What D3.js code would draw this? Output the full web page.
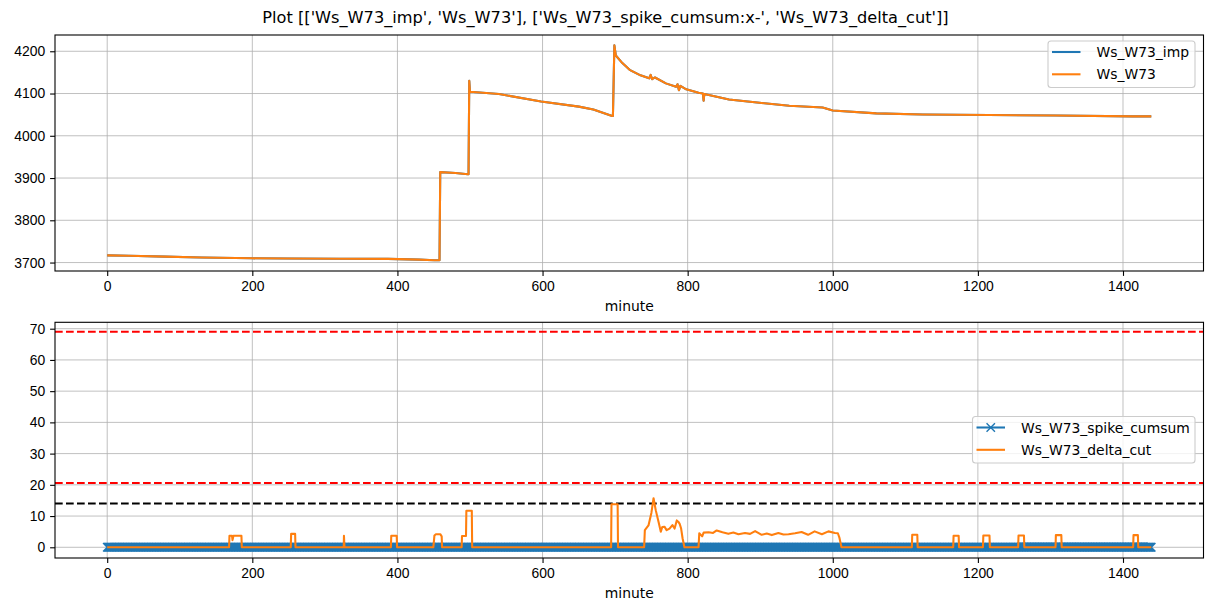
<!DOCTYPE html>
<html>
<head>
<meta charset="utf-8">
<script src="https://cdn.jsdelivr.net/npm/d3@7"></script>
<style>
  body { margin: 0; background: #fff; }
  svg { font-family: "DejaVu Sans", sans-serif; }
  .grid line { stroke: #b0b0b0; stroke-width: 0.8px; }
  .tick text { font-size: 13.9px; fill: #000; }
</style>
</head>
<body>
<svg id="chart" width="1211" height="611"></svg>
<script>
// top panel: minute, value
var topMinutes = [0, 30, 80, 130, 200, 249, 320, 387, 430, 451, 458, 459, 480, 497, 498, 499, 500, 540, 598, 650, 670, 696, 697,
  699, 701, 710, 720, 735, 747, 749, 751, 755, 770, 784, 786, 788, 790, 798, 815, 821, 822, 823, 857, 899, 940, 986, 1000,
  1060, 1124, 1215, 1307, 1413, 1439];
var wsW73 = [3717, 3716, 3714, 3712, 3710, 3709.5, 3709, 3708.7, 3707, 3705.5, 3705.5, 3914, 3912, 3909, 3909, 4130, 4104, 4099,
  4081, 4069, 4062, 4047, 4047, 4214, 4190, 4172, 4156, 4143, 4136, 4144, 4134, 4138, 4124, 4116, 4122, 4108, 4118, 4110,
  4102, 4100, 4083, 4099, 4086, 4078, 4071, 4067, 4060, 4053, 4050.5, 4049, 4048, 4046, 4046];
var wsW73Imp = wsW73.slice();

// bottom panel
var cutMinutes = [0, 168, 168.5, 172, 172.7, 174, 185, 185.5, 253, 253.5, 259, 259.5, 326, 326.3, 327, 391, 391.5, 399, 399.5,
  449.5, 451, 453, 459, 461, 461.5, 488.5, 489, 494.5, 495, 502.5, 503, 694.5, 695, 703.5, 704, 740, 741, 746, 750, 753, 756,
  760, 763, 765, 768, 771, 775, 779, 782, 785, 787, 789, 791, 793, 795.5, 815, 816, 820, 822, 829, 835, 840, 848, 856, 863,
  870, 879, 886, 893, 902, 909, 916, 925, 932, 939, 948, 957, 966, 975, 985, 994, 1003, 1007, 1009, 1012, 1109, 1109.5,
  1116.5, 1117, 1166, 1166.5, 1173.5, 1174, 1207, 1207.5, 1216, 1216.5, 1255.5, 1256, 1263.5, 1264, 1307, 1307.5, 1315,
  1315.5, 1414, 1414.5, 1420.5, 1421, 1439];
var deltaCut = [0, 0, 3.7, 3.7, 2.3, 3.7, 3.7, 0, 0, 4.3, 4.3, 0, 0, 3.7, 0, 0, 3.7, 3.7, 0,
  0, 3.8, 4.2, 4.2, 3.5, 0, 0, 3.6, 3.6, 11.7, 11.7, 0, 0, 13.8, 13.8, 0, 0, 5.5, 7, 11, 15.7, 11.9,
  8, 5, 6.5, 6.6, 5.5, 6, 7.1, 6, 8.6, 8.2, 7.5, 6, 2.9, 0, 0, 4.5, 3.5, 4.7, 4.8, 4.6, 5.4, 4.8, 4.3, 4.7,
  4.2, 4.6, 4.3, 5.2, 4, 4.4, 3.9, 4.6, 4.1, 4.2, 4.5, 4.9, 4, 5.1, 4.2, 5.1, 4.6, 4.5, 3.2, 0, 0, 4,
  4, 0, 0, 3.7, 3.7, 0, 0, 3.8, 3.8, 0, 0, 3.8, 3.8, 0, 0, 3.9, 3.9,
  0, 0, 3.9, 3.9, 0, 0];
var cumsumMinutes = d3.range(0, 1440);
var spikeCumsum = cumsumMinutes.map(function() { return 0; });

var redLevels = [69, 20.6];
var blackLevels = [14];
var xTicks = [0, 200, 400, 600, 800, 1000, 1200, 1400];
var topYTicks = [3700, 3800, 3900, 4000, 4100, 4200];
var botYTicks = [0, 10, 20, 30, 40, 50, 60, 70];

var BLUE = '#1f77b4', ORANGE = '#ff7f0e';
var svg = d3.select('#chart');

svg.append('text')
  .attr('x', 605.5).attr('y', 17)
  .attr('text-anchor', 'middle').attr('dominant-baseline', 'central')
  .style('font-size', '16.2px')
  .text("Plot [['Ws_W73_imp', 'Ws_W73'], ['Ws_W73_spike_cumsum:x-', 'Ws_W73_delta_cut']]");

var left = 55, right = 1203.5;
var x = d3.scaleLinear().domain([-71.95, 1510.95]).range([left, right]);

function panel(id, top, bottom, yDomain, yTicks) {
  var g = svg.append('g');
  var y = d3.scaleLinear().domain(yDomain).range([bottom, top]);
  g.append('clipPath').attr('id', id).append('rect')
    .attr('x', left).attr('y', top).attr('width', right - left).attr('height', bottom - top);

  g.append('g').attr('class', 'grid')
    .selectAll('line').data(xTicks).enter().append('line')
    .attr('x1', function(d) { return x(d); }).attr('x2', function(d) { return x(d); })
    .attr('y1', top).attr('y2', bottom);
  g.append('g').attr('class', 'grid')
    .selectAll('line').data(yTicks).enter().append('line')
    .attr('y1', function(d) { return y(d); }).attr('y2', function(d) { return y(d); })
    .attr('x1', left).attr('x2', right);

  var xa = g.append('g').attr('transform', 'translate(0,' + bottom + ')')
    .call(d3.axisBottom(x).tickValues(xTicks).tickSize(4.9).tickPadding(4.9).tickFormat(d3.format('d')));
  var ya = g.append('g').attr('transform', 'translate(' + left + ',0)')
    .call(d3.axisLeft(y).tickValues(yTicks).tickSize(4.9).tickPadding(4.9).tickFormat(d3.format('d')));
  [xa, ya].forEach(function(a) {
    a.select('.domain').remove();
    a.selectAll('.tick line').style('stroke', '#000').style('stroke-width', 1.1);
  });

  g.append('text')
    .attr('x', (left + right) / 2).attr('y', bottom + 35)
    .attr('text-anchor', 'middle').attr('dominant-baseline', 'central')
    .style('font-size', '13.9px')
    .text('minute');

  var plot = g.append('g').attr('clip-path', 'url(#' + id + ')');
  var frame = function() {
    g.append('rect')
      .attr('x', left).attr('y', top).attr('width', right - left).attr('height', bottom - top)
      .style('fill', 'none').style('stroke', '#000').style('stroke-width', 1.1);
  };
  return { g: g, y: y, plot: plot, frame: frame };
}

function legend(g, x0, y0, w, h, items) {
  var lg = g.append('g');
  lg.append('rect').attr('x', x0).attr('y', y0).attr('width', w).attr('height', h)
    .attr('rx', 3).style('fill', 'rgba(255,255,255,0.8)').style('stroke', '#cccccc').style('stroke-width', 1.1);
  items.forEach(function(it, i) {
    var cy = y0 + 11 + i * 22.3;
    lg.append('line').attr('x1', x0 + 4).attr('x2', x0 + 32.5).attr('y1', cy).attr('y2', cy)
      .style('stroke', it.color).style('stroke-width', 2.08);
    if (it.marker) {
      var mx = x0 + 18.25, s = 4.2;
      lg.append('path').attr('d', 'M' + (mx - s) + ',' + (cy - s) + 'L' + (mx + s) + ',' + (cy + s) +
        'M' + (mx - s) + ',' + (cy + s) + 'L' + (mx + s) + ',' + (cy - s))
        .style('stroke', it.color).style('stroke-width', 1.4);
    }
    lg.append('text').attr('x', it.tx).attr('y', cy).attr('dominant-baseline', 'central')
      .style('font-size', '13.9px').text(it.label);
  });
}

// ---- top panel
var p1 = panel('clipTop', 35, 271, [3680, 4238.5], topYTicks);
var line1 = d3.line().x(function(d) { return x(d[0]); }).y(function(d) { return p1.y(d[1]); });
p1.plot.append('path').datum(d3.zip(topMinutes, wsW73Imp)).attr('d', line1)
  .style('fill', 'none').style('stroke', BLUE).style('stroke-width', 2.08).style('stroke-linejoin', 'round');
p1.plot.append('path').datum(d3.zip(topMinutes, wsW73)).attr('d', line1)
  .style('fill', 'none').style('stroke', ORANGE).style('stroke-width', 2.08).style('stroke-linejoin', 'round');
p1.frame();
legend(p1.g, 1048, 41, 147, 46.5, [
  { label: 'Ws_W73_imp', color: BLUE, tx: 1096.5 },
  { label: 'Ws_W73', color: ORANGE, tx: 1096.5 }
]);

// ---- bottom panel
var p2 = panel('clipBot', 322.3, 558, [-3.43, 72.05], botYTicks);
var line2 = d3.line().x(function(d) { return x(d[0]); }).y(function(d) { return p2.y(d[1]); });

redLevels.forEach(function(v) {
  p2.plot.append('line').attr('x1', left).attr('x2', right).attr('y1', p2.y(v)).attr('y2', p2.y(v))
    .style('stroke', 'red').style('stroke-width', 2.08).style('stroke-dasharray', '7.7,3.3');
});
blackLevels.forEach(function(v) {
  p2.plot.append('line').attr('x1', left).attr('x2', right).attr('y1', p2.y(v)).attr('y2', p2.y(v))
    .style('stroke', '#000').style('stroke-width', 2.08).style('stroke-dasharray', '7.7,3.3');
});

var cum = d3.zip(cumsumMinutes, spikeCumsum);
p2.plot.append('path').datum(cum).attr('d', line2)
  .style('fill', 'none').style('stroke', BLUE).style('stroke-width', 2.08);
var ms = 4.17;
p2.plot.append('path')
  .attr('d', cum.map(function(d) {
    var cx = x(d[0]), cy = p2.y(d[1]);
    return 'M' + (cx - ms) + ',' + (cy - ms) + 'L' + (cx + ms) + ',' + (cy + ms) +
      'M' + (cx - ms) + ',' + (cy + ms) + 'L' + (cx + ms) + ',' + (cy - ms);
  }).join(''))
  .style('fill', 'none').style('stroke', BLUE).style('stroke-width', 1.4);

p2.plot.append('path').datum(d3.zip(cutMinutes, deltaCut)).attr('d', line2)
  .style('fill', 'none').style('stroke', ORANGE).style('stroke-width', 2.08).style('stroke-linejoin', 'round');
p2.frame();
legend(p2.g, 972.5, 416.5, 222.5, 46.5, [
  { label: 'Ws_W73_spike_cumsum', color: BLUE, marker: true, tx: 1021 },
  { label: 'Ws_W73_delta_cut', color: ORANGE, tx: 1021 }
]);
</script>
</body>
</html>
